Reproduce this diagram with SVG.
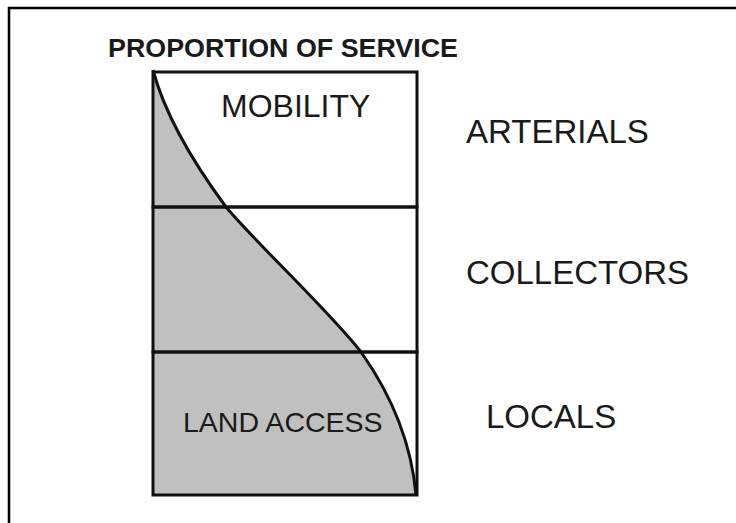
<svg xmlns="http://www.w3.org/2000/svg" width="736" height="523" viewBox="0 0 736 523">
<style>
.t{font-family:"Liberation Sans",Arial,sans-serif;fill:#1a1a1a}
.ln{stroke:#111;stroke-width:3;fill:none}
</style>
<rect x="0" y="0" width="736" height="523" fill="#fff"/>
<rect x="9" y="8" width="740" height="530" fill="none" stroke="#000" stroke-width="2.5"/>
<text class="t" x="108" y="57" font-size="26" font-weight="bold" textLength="350" lengthAdjust="spacingAndGlyphs">PROPORTION OF SERVICE</text>
<g id="shade">
<path d="M153,72 C165,115 195,165 226,207 C258,245 330,312 361,352 C395,400 412,450 416,495 L153,495 Z" fill="#c0c0c0"/>
</g>
<g id="arterials">
<rect class="ln" x="153" y="72" width="264" height="135"/>
<text class="t" x="221" y="117" font-size="32">MOBILITY</text>
<text class="t" x="466" y="143" font-size="33">ARTERIALS</text>
</g>
<g id="collectors">
<rect class="ln" x="153" y="207" width="264" height="145"/>
<text class="t" x="466" y="284" font-size="33">COLLECTORS</text>
</g>
<g id="locals">
<rect class="ln" x="153" y="352" width="264" height="143"/>
<text class="t" x="183" y="432" font-size="28.5">LAND ACCESS</text>
<text class="t" x="486" y="428" font-size="33">LOCALS</text>
</g>
<g id="connectors">
<path class="ln" d="M153,70 C165,115 195,165 226,207 C258,245 330,312 361,352 C395,400 412,450 416,495"/>
</g>
</svg>
